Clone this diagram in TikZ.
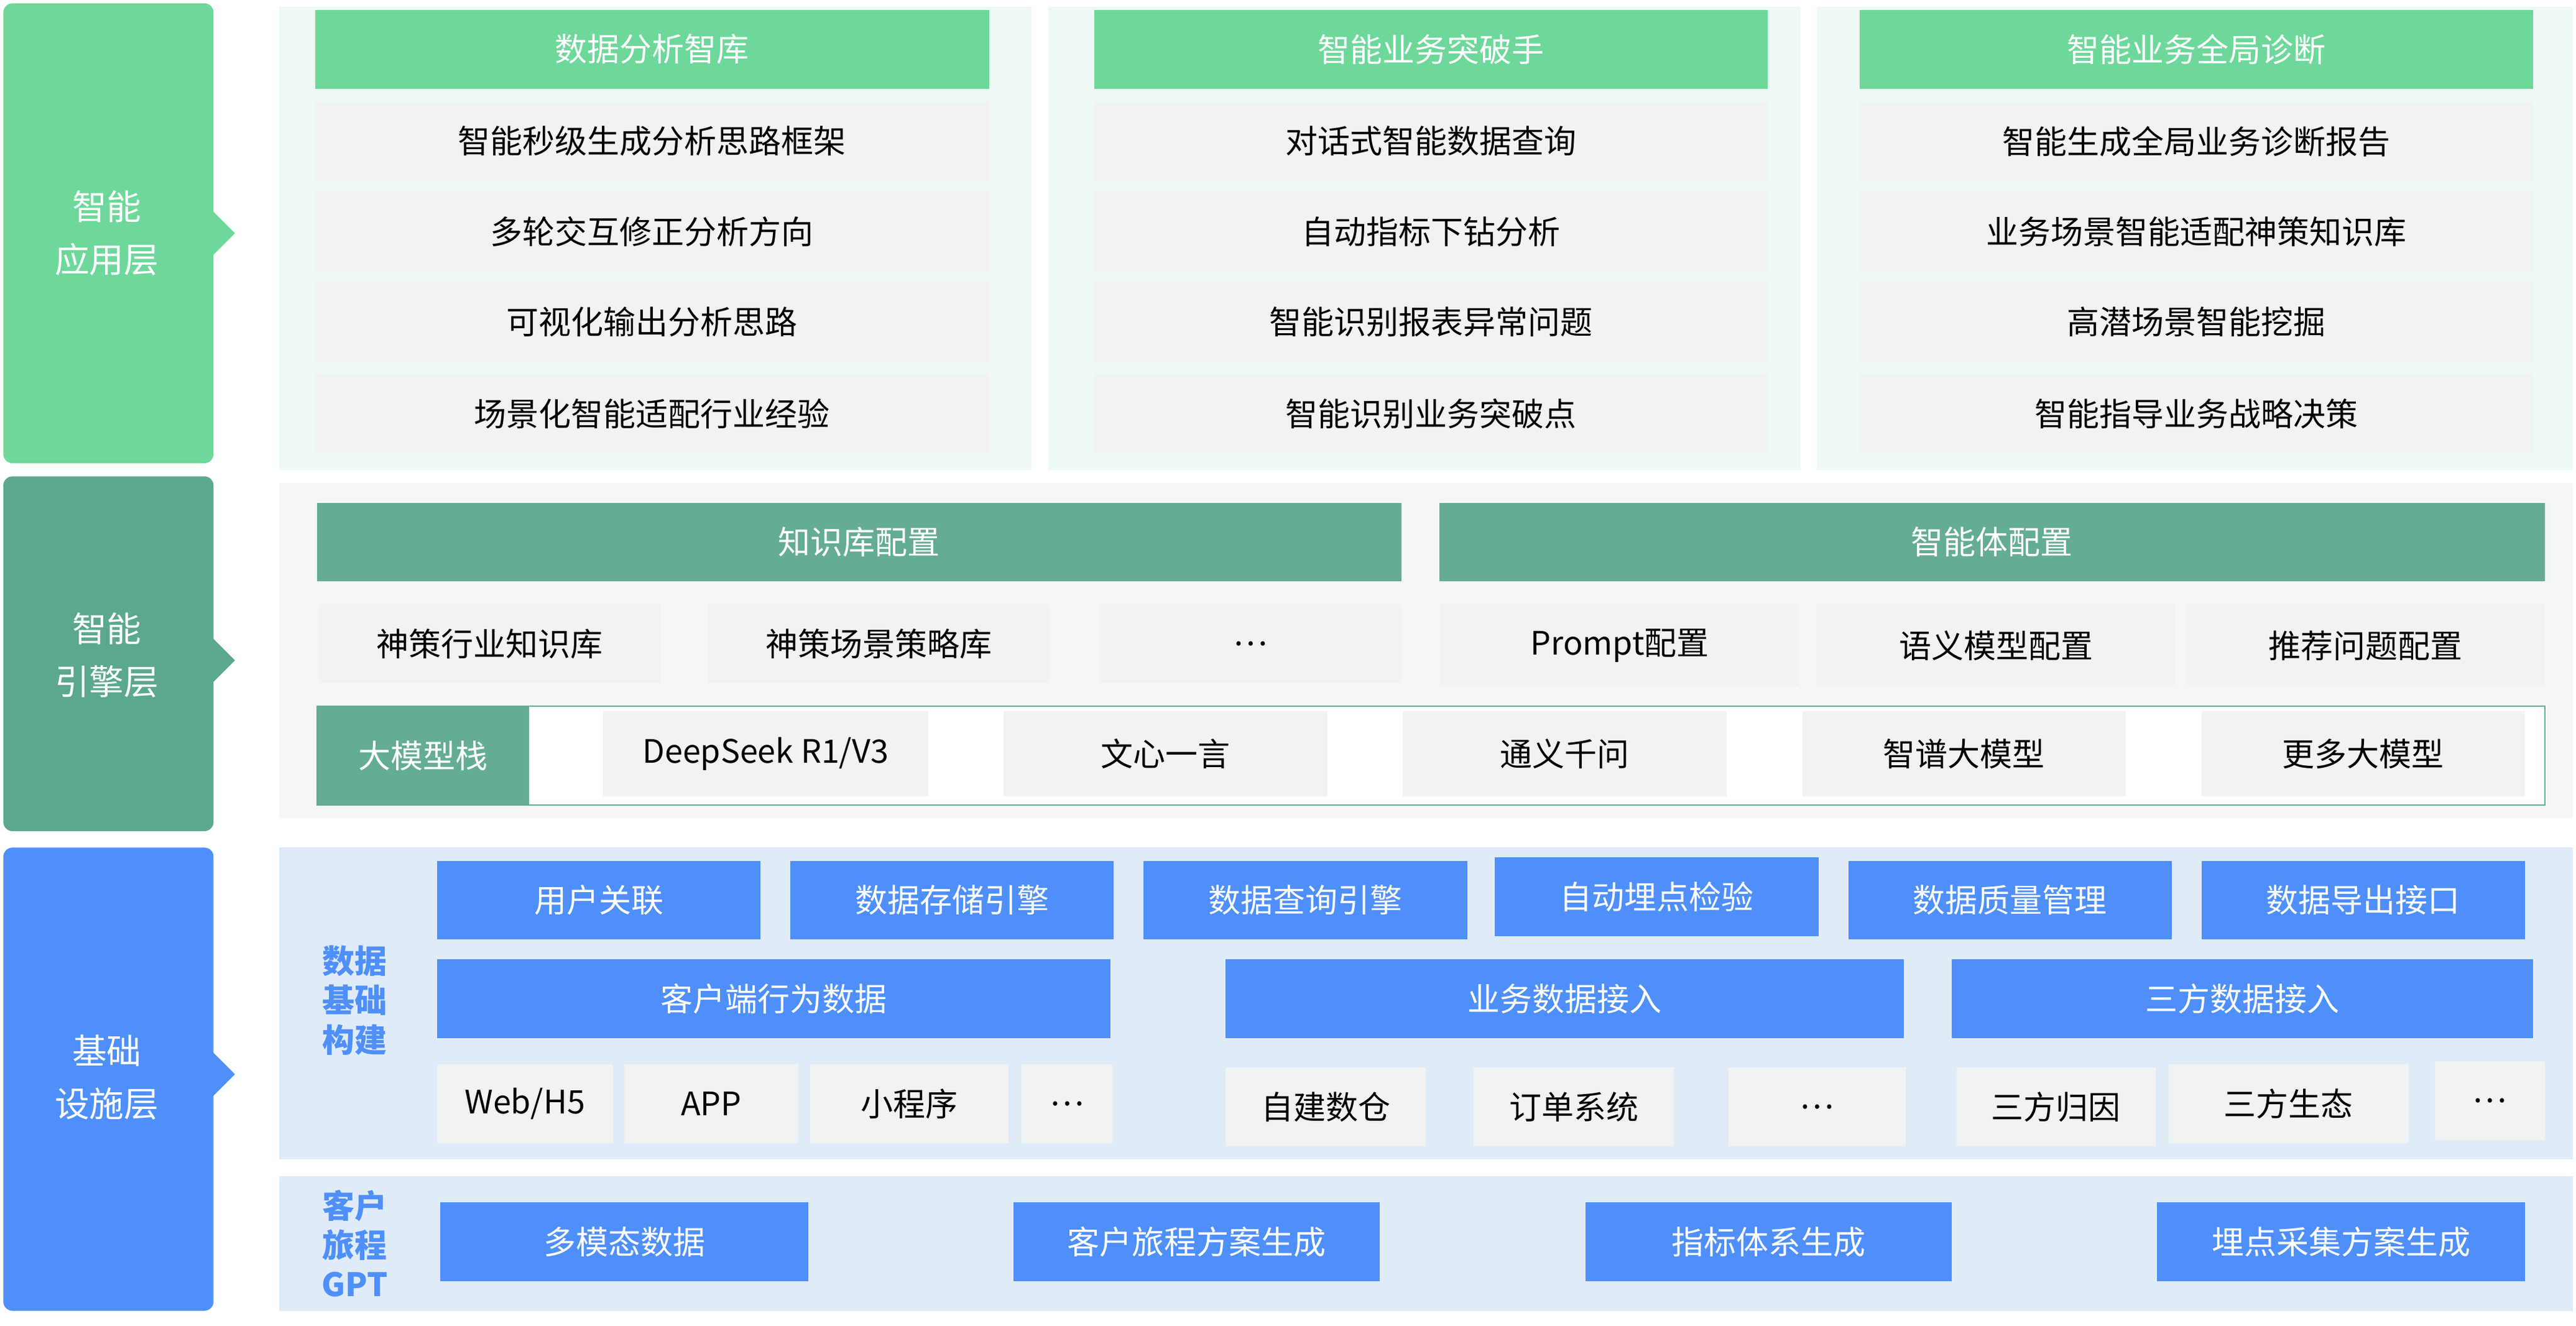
\documentclass[tikz,border=0pt]{standalone}
\usepackage{fontspec}
\setmainfont{Noto Sans CJK SC}
\usetikzlibrary{positioning}
\definecolor{appgreen}{HTML}{6DD89A}
\definecolor{enggreen}{HTML}{5BA88E}
\definecolor{enghead}{HTML}{64AC96}
\definecolor{infblue}{HTML}{4E8FFB}
\definecolor{itemgray}{HTML}{F2F2F2}
\definecolor{appbg}{HTML}{EEF8F4}
\definecolor{engbg}{HTML}{F5F7F6}
\definecolor{infbg}{HTML}{DFEBF7}
% box from top-left (x1,y1) to bottom-right (x2,y2), in reference pixels
\newcommand\bx[7]{\node[#2, minimum width={(#5-#3)*0.05cm}, minimum height={(#6-#4)*0.05cm}] (#1) at ({(#3+#5)/2},{(#4+#6)/2}) {#7};}
\begin{document}
\begin{tikzpicture}[x=0.05cm, y=-0.05cm,
        every node/.style={inner sep=0pt, outer sep=0pt, font=\fontsize{28}{30}\selectfont},
        apphead/.style={fill=appgreen, text=white},
        enghd/.style={fill=enghead, text=white},
        item/.style={fill=itemgray, text=black},
        infbox/.style={fill=infblue, text=white},
        sidelbl/.style={text=white, align=center, font=\fontsize{30}{46}\selectfont},
        sublbl/.style={text=infblue, align=center, font=\bfseries\fontsize{28}{34}\selectfont}
    ]
        \useasboundingbox (0,0) rectangle (1568,807);

        % Side labels
        \fill[appgreen, rounded corners=8pt] (2,2) rectangle (130,282);
        \fill[appgreen] (129,128) -- (143,142) -- (129,156) -- cycle;
        \fill[enggreen, rounded corners=8pt] (2,290) rectangle (130,506);
        \fill[enggreen] (129,388) -- (143,402) -- (129,416) -- cycle;
        \fill[infblue, rounded corners=8pt] (2,516) rectangle (130,798);
        \fill[infblue] (129,640) -- (143,654) -- (129,668) -- cycle;
        \node[sidelbl] (lapp) at (65,142) {智能\\应用层};
        \node[sidelbl] (leng) at (65,399) {智能\\引擎层};
        \node[sidelbl] (linf) at (65,656) {基础\\设施层};

        % Application layer
        \bx{pa}{fill=appbg}{170}{4}{628}{286}{}
        \bx{pb}{fill=appbg}{638}{4}{1096}{286}{}
        \bx{pc}{fill=appbg}{1106}{4}{1566}{286}{}
        \bx{ha}{apphead}{192}{6}{602}{54}{数据分析智库}
        \bx{hb}{apphead}{666}{6}{1076}{54}{智能业务突破手}
        \bx{hc}{apphead}{1132}{6}{1542}{54}{智能业务全局诊断}
        \bx{a1}{item}{192}{62}{602}{110}{智能秒级生成分析思路框架}
        \bx{a2}{item}{192}{117}{602}{165}{多轮交互修正分析方向}
        \bx{a3}{item}{192}{172}{602}{220}{可视化输出分析思路}
        \bx{a4}{item}{192}{228}{602}{276}{场景化智能适配行业经验}
        \bx{b1}{item}{666}{62}{1076}{110}{对话式智能数据查询}
        \bx{b2}{item}{666}{117}{1076}{165}{自动指标下钻分析}
        \bx{b3}{item}{666}{172}{1076}{220}{智能识别报表异常问题}
        \bx{b4}{item}{666}{228}{1076}{276}{智能识别业务突破点}
        \bx{c1}{item}{1132}{62}{1542}{110}{智能生成全局业务诊断报告}
        \bx{c2}{item}{1132}{117}{1542}{165}{业务场景智能适配神策知识库}
        \bx{c3}{item}{1132}{172}{1542}{220}{高潜场景智能挖掘}
        \bx{c4}{item}{1132}{228}{1542}{276}{智能指导业务战略决策}

        % Engine layer
        \bx{pe}{fill=engbg}{170}{294}{1566}{498}{}
        \bx{hk}{enghd}{193}{306}{853}{354}{知识库配置}
        \bx{hg}{enghd}{876}{306}{1549}{354}{智能体配置}
        \bx{k1}{item}{194}{368}{402}{416}{神策行业知识库}
        \bx{k2}{item}{431}{368}{639}{416}{神策场景策略库}
        \bx{k3}{item}{669}{368}{853}{416}{…}
        \bx{g1}{item}{877}{368}{1095}{418}{Prompt配置}
        \bx{g2}{item}{1106}{368}{1324}{418}{语义模型配置}
        \bx{g3}{item}{1331}{368}{1549}{418}{推荐问题配置}
        \bx{ms}{draw=enghead, line width=1.2pt, fill=white}{193}{430}{1549}{490}{}
        \bx{mlbl}{enghd}{193}{430}{322}{490}{大模型栈}
        \bx{m1}{item}{367}{433}{565}{485}{DeepSeek R1/V3}
        \bx{m2}{item}{611}{433}{808}{485}{文心一言}
        \bx{m3}{item}{854}{433}{1051}{485}{通义千问}
        \bx{m4}{item}{1097}{433}{1294}{485}{智谱大模型}
        \bx{m5}{item}{1340}{433}{1537}{485}{更多大模型}

        % Infrastructure layer
        \bx{pi}{fill=infbg}{170}{516}{1566}{706}{}
        \bx{pj}{fill=infbg}{170}{716}{1566}{798}{}
        \node[sublbl] (sdata) at (216,609) {数据\\基础\\构建};
        \node[sublbl] (sgpt) at (216,757) {客户\\旅程\\GPT};
        \bx{r1}{infbox}{266}{524}{463}{572}{用户关联}
        \bx{r2}{infbox}{481}{524}{678}{572}{数据存储引擎}
        \bx{r3}{infbox}{696}{524}{893}{572}{数据查询引擎}
        \bx{r4}{infbox}{910}{522}{1107}{570}{自动埋点检验}
        \bx{r5}{infbox}{1125}{524}{1322}{572}{数据质量管理}
        \bx{r6}{infbox}{1340}{524}{1537}{572}{数据导出接口}
        \bx{s1}{infbox}{266}{584}{676}{632}{客户端行为数据}
        \bx{s2}{infbox}{746}{584}{1159}{632}{业务数据接入}
        \bx{s3}{infbox}{1188}{584}{1542}{632}{三方数据接入}
        \bx{t1}{item}{266}{648}{373}{696}{Web/H5}
        \bx{t2}{item}{380}{648}{486}{696}{APP}
        \bx{t3}{item}{493}{648}{614}{696}{小程序}
        \bx{t4}{item}{622}{648}{677}{696}{…}
        \bx{t5}{item}{746}{650}{868}{698}{自建数仓}
        \bx{t6}{item}{897}{650}{1019}{698}{订单系统}
        \bx{t7}{item}{1052}{650}{1160}{698}{…}
        \bx{t8}{item}{1191}{650}{1312}{698}{三方归因}
        \bx{t9}{item}{1320}{648}{1466}{696}{三方生态}
        \bx{t10}{item}{1482}{646}{1549}{694}{…}
        \bx{u1}{infbox}{268}{732}{492}{780}{多模态数据}
        \bx{u2}{infbox}{617}{732}{840}{780}{客户旅程方案生成}
        \bx{u3}{infbox}{965}{732}{1188}{780}{指标体系生成}
        \bx{u4}{infbox}{1313}{732}{1537}{780}{埋点采集方案生成}
    \end{tikzpicture}
\end{document}
